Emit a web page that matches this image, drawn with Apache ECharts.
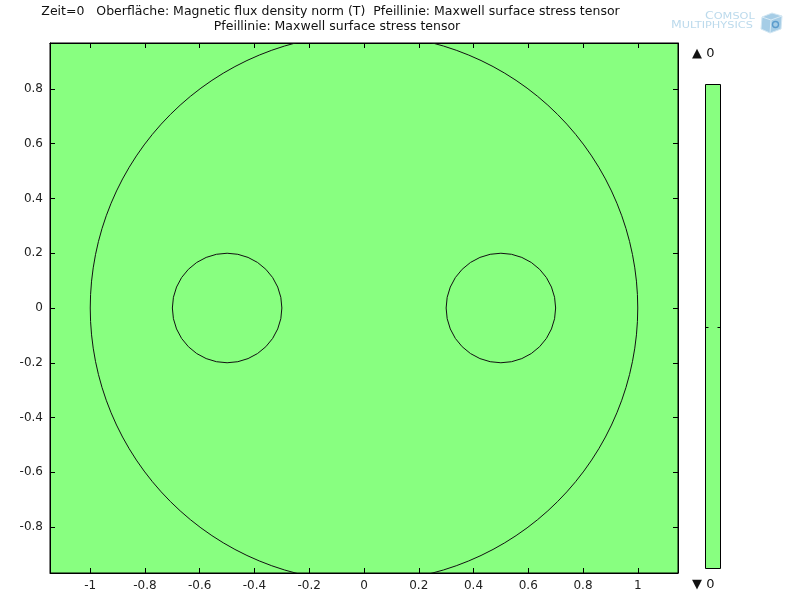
<!DOCTYPE html>
<html>
<head>
<meta charset="utf-8">
<script src="https://cdn.jsdelivr.net/npm/echarts@6/dist/echarts.min.js"></script>
<style>html,body{margin:0;padding:0;background:#fff;}#c{width:800px;height:600px;}</style>
</head>
<body>
<div id="c"></div>
<script>
// ---- data ----
const titleLine1 = 'Zeit=0   Oberfläche: Magnetic flux density norm (T)  Pfeillinie: Maxwell surface stress tensor';
const titleLine2 = 'Pfeillinie: Maxwell surface stress tensor';
const circleCenterX = [0, -0.5, 0.5];
const circleCenterY = [0, 0, 0];
const circleRadius = [1, 0.2, 0.2];
const xRange = [-1.147, 1.147];
const yRange = [-0.968, 0.968];
const colorbarMaxLabel = '0';
const colorbarMinLabel = '0';

const circles = circleRadius.map((r, i) => [circleCenterX[i], circleCenterY[i], r]);

const GREEN = '#88ff80';
const FONT = 'DejaVu Sans';
const LOGO = '#bcdaec';
const grid = {left: 50, top: 43, width: 628, height: 530};

const chart = echarts.init(document.getElementById('c'), null, {renderer: 'canvas'});

function axisCommon(show) {
  return {
    type: 'value',
    splitLine: {show: false},
    axisLine: {show: true, onZero: false, lineStyle: {color: '#000', width: 1}},
    axisTick: {show: true, inside: true, length: 5, lineStyle: {color: '#000', width: 1}},
    axisLabel: {show: show, color: '#222', fontFamily: FONT, fontSize: 12, margin: 7,
      showMinLabel: false, showMaxLabel: false},
  };
}

const logoRich = {
  b: {fontSize: 10.5, fontFamily: FONT, fill: LOGO},
  s: {fontSize: 9.5, fontFamily: FONT, fill: LOGO}
};

const option = {
  animation: false,
  backgroundColor: '#fff',
  grid: Object.assign({show: true, backgroundColor: GREEN, borderColor: '#000', borderWidth: 1}, grid),
  xAxis: [
    Object.assign(axisCommon(true), {position: 'bottom', min: xRange[0], max: xRange[1], splitNumber: 11}),
    Object.assign(axisCommon(false), {position: 'top', min: xRange[0], max: xRange[1], splitNumber: 11}),
  ],
  yAxis: [
    Object.assign(axisCommon(true), {position: 'left', min: yRange[0], max: yRange[1], splitNumber: 10}),
    Object.assign(axisCommon(false), {position: 'right', min: yRange[0], max: yRange[1], splitNumber: 10}),
  ],
  series: [{
    type: 'custom',
    xAxisIndex: 0, yAxisIndex: 0,
    clip: true,
    silent: true,
    data: circles,
    encode: {x: 0, y: 1},
    renderItem: function (params, api) {
      const c = api.coord([api.value(0), api.value(1)]);
      const s = api.size([api.value(2), api.value(2)]);
      return {
        type: 'circle',
        shape: {cx: c[0], cy: c[1], r: s[0]},
        style: {fill: null, stroke: '#111', lineWidth: 1}
      };
    }
  }],
  graphic: [
    {type: 'text', x: 330.5, y: 11.5, style: {text: titleLine1, fill: '#111', align: 'center', verticalAlign: 'middle', font: '12.5px "DejaVu Sans"'}},
    {type: 'text', x: 337, y: 27, style: {text: titleLine2, fill: '#111', align: 'center', verticalAlign: 'middle', font: '12.5px "DejaVu Sans"'}},
    // colorbar
    {type: 'rect', shape: {x: 705.5, y: 84.5, width: 15, height: 484}, style: {fill: GREEN, stroke: '#000', lineWidth: 1}},
    {type: 'line', shape: {x1: 705.5, y1: 327.5, x2: 708.5, y2: 327.5}, style: {stroke: '#000', lineWidth: 1}},
    {type: 'line', shape: {x1: 717.5, y1: 327.5, x2: 720.5, y2: 327.5}, style: {stroke: '#000', lineWidth: 1}},
    {type: 'text', x: 692, y: 54, style: {text: '▲ ' + colorbarMaxLabel, fill: '#111', verticalAlign: 'middle', font: '13px "DejaVu Sans"'}},
    {type: 'text', x: 692, y: 585, style: {text: '▼ ' + colorbarMinLabel, fill: '#111', verticalAlign: 'middle', font: '13px "DejaVu Sans"'}},
    // logo
    {type: 'text', x: 705, y: 22, scaleX: 1.19, style: {
      text: '{b|C}{s|OMSOL}', verticalAlign: 'bottom', rich: logoRich
    }},
    {type: 'text', x: 671, y: 31, scaleX: 1.19, style: {
      text: '{b|M}{s|ULTIPHYSICS}', verticalAlign: 'bottom', rich: logoRich
    }},
    {type: 'polygon', shape: {points: [[762, 17], [772, 13], [782, 16], [781, 29], [770, 33], [761, 29]]}, style: {fill: '#a6cde6', stroke: '#d3e7f3', lineWidth: 1}},
    {type: 'polyline', shape: {points: [[762, 17], [771, 20], [782, 16]]}, style: {stroke: '#d8eaf5', lineWidth: 1, fill: null}},
    {type: 'polyline', shape: {points: [[771, 20], [770, 33]]}, style: {stroke: '#d8eaf5', lineWidth: 1, fill: null}},
    {type: 'circle', shape: {cx: 775.5, cy: 24.5, r: 3}, style: {fill: 'none', stroke: '#5a9bcc', lineWidth: 1.4}}
  ]
};
chart.setOption(option);
</script>
</body>
</html>
